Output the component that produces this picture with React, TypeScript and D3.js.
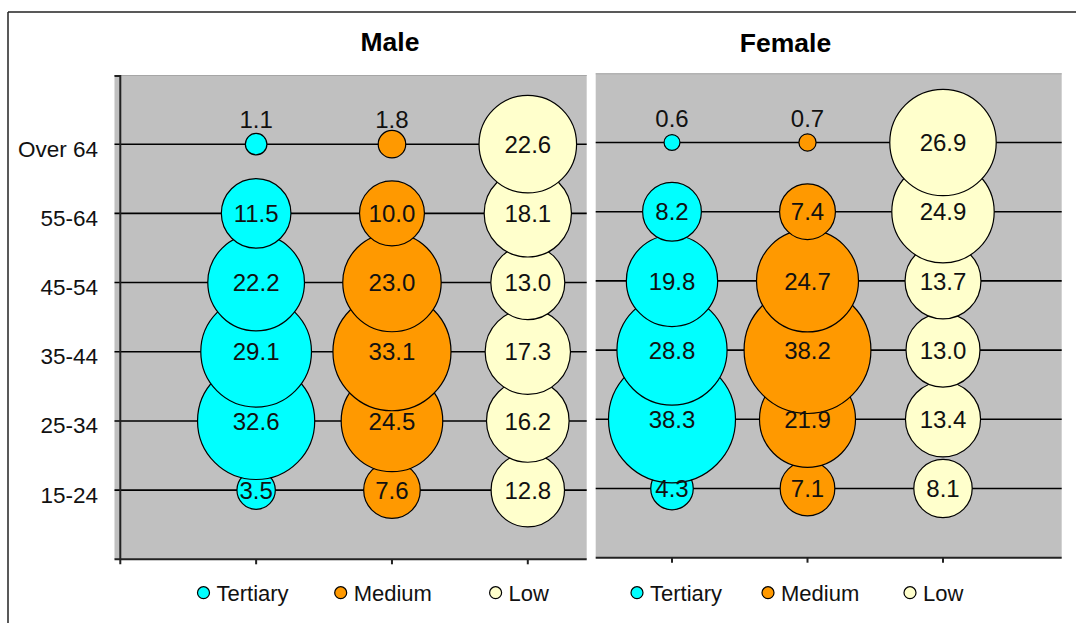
import React from "react";
import * as d3 from "d3";

const categories = ["15-24", "25-34", "35-44", "45-54", "55-64", "Over 64"];
const seriesNames = ["Tertiary", "Medium", "Low"];
const seriesColors = ["#00FFFF", "#FF9900", "#FFFFCC"];

const maleTertiary = [3.5, 32.6, 29.1, 22.2, 11.5, 1.1];
const maleMedium = [7.6, 24.5, 33.1, 23.0, 10.0, 1.8];
const maleLow = [12.8, 16.2, 17.3, 13.0, 18.1, 22.6];

const femaleTertiary = [4.3, 38.3, 28.8, 19.8, 8.2, 0.6];
const femaleMedium = [7.1, 21.9, 38.2, 24.7, 7.4, 0.7];
const femaleLow = [8.1, 13.4, 13.0, 13.7, 24.9, 26.9];

const panelTitles = ["Male", "Female"];

const W = 1076;
const H = 623;
const fmt = d3.format(".1f");
const FONT = "'Liberation Sans', Arial, sans-serif";

const rScale = d3.scaleSqrt().domain([0, 38.3]).range([0, 63.5]);

type Panel = {
  title: string;
  titleX: number;
  titleY: number;
  series: number[][];
  grayL: number;
  grayR: number;
  top: number;
  bottom: number;
  xDomain: [number, number];
  xRange: [number, number];
  yAxis: boolean;
  axisX: number;
  legendX: number[];
};

const panels: Panel[] = [
  {
    title: panelTitles[0],
    titleX: 390,
    titleY: 51,
    series: [maleTertiary, maleMedium, maleLow],
    grayL: 114.5,
    grayR: 586.7,
    top: 75,
    bottom: 559.3,
    xDomain: [0, 3],
    xRange: [120.3, 527.8],
    yAxis: true,
    axisX: 120.3,
    legendX: [203.5, 340.7, 495.6],
  },
  {
    title: panelTitles[1],
    titleX: 785.5,
    titleY: 52,
    series: [femaleTertiary, femaleMedium, femaleLow],
    grayL: 595.7,
    grayR: 1061.7,
    top: 73.3,
    bottom: 557.7,
    xDomain: [1, 3],
    xRange: [672, 943],
    yAxis: false,
    axisX: 595.7,
    legendX: [637, 768, 910],
  },
];

function PanelView({ p }: { p: Panel }) {
  const x = d3.scaleLinear().domain(p.xDomain).range(p.xRange);
  const y = d3.scaleLinear().domain([0, 7]).range([p.bottom, p.top]);
  const catIdx = categories.map((_, i) => i + 1);
  return (
    <g>
      <text
        x={p.titleX}
        y={p.titleY}
        textAnchor="middle"
        fontFamily={FONT}
        fontWeight="bold"
        fontSize={26.5}
        fill="#000"
      >
        {p.title}
      </text>
      <rect x={p.grayL} y={p.top} width={p.grayR - p.grayL} height={p.bottom - p.top} fill="#C0C0C0" />
      <line x1={p.grayL} x2={p.grayR} y1={p.top + 0.5} y2={p.top + 0.5} stroke="#a6a6a6" strokeWidth={1} />
      {/* gridlines at categories */}
      {catIdx.map((c) => (
        <line key={c} x1={p.grayL} x2={p.grayR} y1={y(c)} y2={y(c)} stroke="#000" strokeWidth={1.6} />
      ))}
      {/* bottom axis */}
      <line x1={p.grayL} x2={p.grayR} y1={p.bottom} y2={p.bottom} stroke="#222" strokeWidth={2} />
      {[1, 2, 3].map((t) => (
        <line key={t} x1={x(t)} x2={x(t)} y1={p.bottom} y2={p.bottom + 5} stroke="#222" strokeWidth={2} />
      ))}
      {p.yAxis && (
        <g>
          <line x1={p.axisX} x2={p.axisX} y1={p.top} y2={p.bottom + 5} stroke="#222" strokeWidth={2} />
          <line x1={p.grayL} x2={p.axisX} y1={p.top + 1} y2={p.top + 1} stroke="#222" strokeWidth={2} />
          {catIdx.map((c, i) => (
            <text
              key={c}
              x={98}
              y={y(c) + 12.5}
              textAnchor="end"
              fontFamily={FONT}
              fontSize={22.5}
              fill="#111"
            >
              {categories[i]}
            </text>
          ))}
        </g>
      )}
      {/* bubbles */}
      {p.series.map((vals, si) => (
        <g key={si}>
          {vals.map((v, ci) => (
            <circle
              key={ci}
              cx={x(si + 1)}
              cy={y(ci + 1)}
              r={rScale(v)}
              fill={seriesColors[si]}
              stroke="#000"
              strokeWidth={1.2}
            />
          ))}
        </g>
      ))}
      {/* labels */}
      {p.series.map((vals, si) => (
        <g key={"l" + si}>
          {vals.map((v, ci) => {
            const small = v < 2;
            const cx = x(si + 1);
            const cy = y(ci + 1);
            return (
              <text
                key={ci}
                x={cx}
                y={small ? cy - 16 : cy + 8.6}
                textAnchor="middle"
                fontFamily={FONT}
                fontSize={24}
                fill="#111"
              >
                {fmt(v)}
              </text>
            );
          })}
        </g>
      ))}
      {/* legend */}
      {seriesNames.map((s, si) => (
        <g key={s}>
          <circle cx={p.legendX[si]} cy={592.7} r={6} fill={seriesColors[si]} stroke="#000" strokeWidth={1.2} />
          <text x={p.legendX[si] + 13} y={600.5} fontFamily={FONT} fontSize={22} fill="#111">
            {s}
          </text>
        </g>
      ))}
    </g>
  );
}

export default function App() {
  return (
    <svg
      width={W}
      height={H}
      style={{ position: "absolute", left: 0, top: 0, background: "#fff" }}
      viewBox={`0 0 ${W} ${H}`}
    >
      <rect x={0} y={0} width={W} height={H} fill="#fff" />
      <line x1={8} x2={W} y1={12} y2={12} stroke="#222" strokeWidth={1.5} />
      <line x1={8} x2={8} y1={12} y2={H} stroke="#222" strokeWidth={1.5} />
      {panels.map((p) => (
        <PanelView key={p.title} p={p} />
      ))}
    </svg>
  );
}
